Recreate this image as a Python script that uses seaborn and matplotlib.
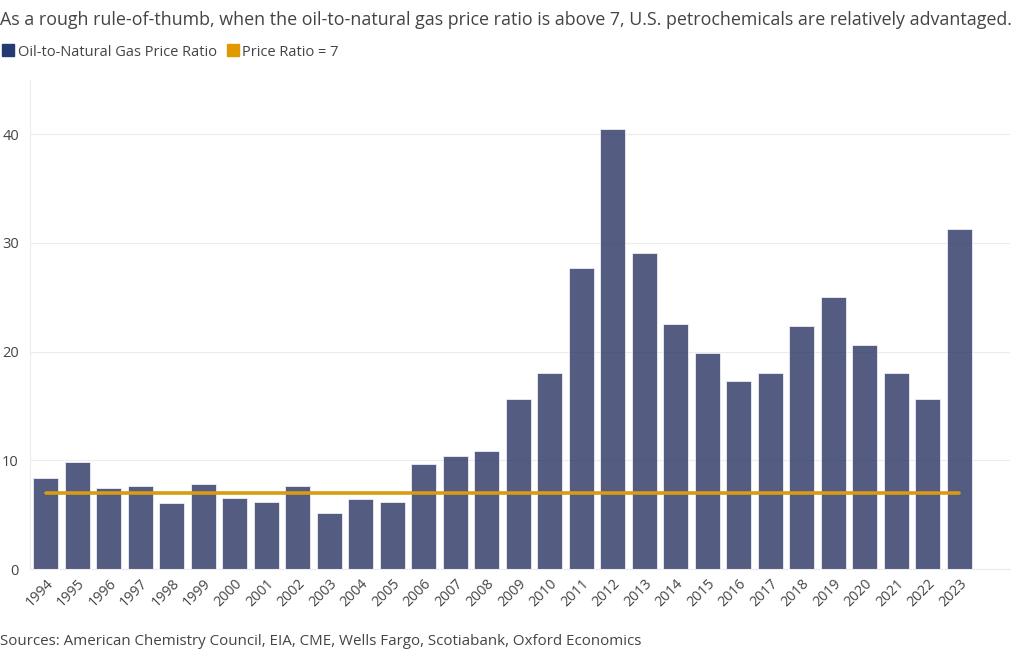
import matplotlib
matplotlib.use("Agg")
import matplotlib.pyplot as plt
import seaborn as sns
import pandas as pd
from matplotlib.lines import Line2D

# Chart data
years = [str(y) for y in range(1994, 2024)]
ratio = [8.35, 9.88, 7.47, 7.67, 6.06, 7.85, 6.56, 6.17, 7.67, 5.16,
         6.47, 6.17, 9.68, 10.37, 10.88, 15.67, 18.06, 27.74, 40.46, 29.08,
         22.53, 19.86, 17.28, 18.06, 22.4, 25.07, 20.65, 18.06, 15.67, 31.24]
threshold = [7] * len(years)

title = ("As a rough rule-of-thumb, when the oil-to-natural gas price ratio is above 7, "
         "U.S. petrochemicals are relatively advantaged.")
source = "Sources: American Chemistry Council, EIA, CME, Wells Fargo, Scotiabank, Oxford Economics"

df = pd.DataFrame({"Year": years, "Ratio": ratio})

sns.set_style("white")
plt.rcParams['font.family'] = ['Open Sans', 'DejaVu Sans']

bar_color = "#1f2f6b"
line_color = "#d89b13"
text_color = "#444444"

fig = plt.figure(figsize=(10.2, 6.5), dpi=100)
ax = fig.add_axes([0.0294, 0.1246, 0.9606, 0.7524])

sns.barplot(data=df, x="Year", y="Ratio", color=bar_color, alpha=0.8,
            width=0.8, edgecolor="white", linewidth=0.6, ax=ax)
ax.plot(range(len(years)), threshold, color=line_color, linewidth=2.6, zorder=3)

ax.set_xlim(-0.5, 30.6)
ax.set_ylim(0, 45)
ax.set_yticks([0, 10, 20, 30, 40])
ax.set_xlabel("")
ax.set_ylabel("")
ax.grid(axis="y", color="#ececec", linewidth=0.8)
ax.set_axisbelow(True)
for s in ["top", "right"]:
    ax.spines[s].set_visible(False)
ax.spines["left"].set_color("#ececec")
ax.spines["bottom"].set_color("#ececec")

ax.tick_params(axis="y", length=0, pad=8, labelsize=10.5, labelcolor=text_color)
ax.tick_params(axis="x", length=4, color="#d8d8d8", labelsize=10.3, labelcolor=text_color, pad=1)
for lab in ax.get_xticklabels():
    lab.set_rotation(45)
    lab.set_ha("right")
    lab.set_rotation_mode("anchor")

fig.text(0.0, 0.969, title, fontsize=12.9, color=text_color, va="center", ha="left")
fig.text(0.0, 0.013, source, fontsize=10.9, color=text_color, va="center", ha="left")

handles = [
    Line2D([], [], marker="s", linestyle="", markersize=8, markerfacecolor="#233a73",
           markeredgecolor="#233a73"),
    Line2D([], [], marker="s", linestyle="", markersize=8, markerfacecolor="#e09a00",
           markeredgecolor="#e09a00"),
]
fig.legend(handles, ["Oil-to-Natural Gas Price Ratio", "Price Ratio = 7"],
           loc="center left", bbox_to_anchor=(-0.012, 0.92), ncol=2, frameon=False,
           fontsize=10.5, handletextpad=0.15, columnspacing=0.6, handlelength=1.0,
           labelcolor=text_color)

fig.savefig("out.png", dpi=100)
